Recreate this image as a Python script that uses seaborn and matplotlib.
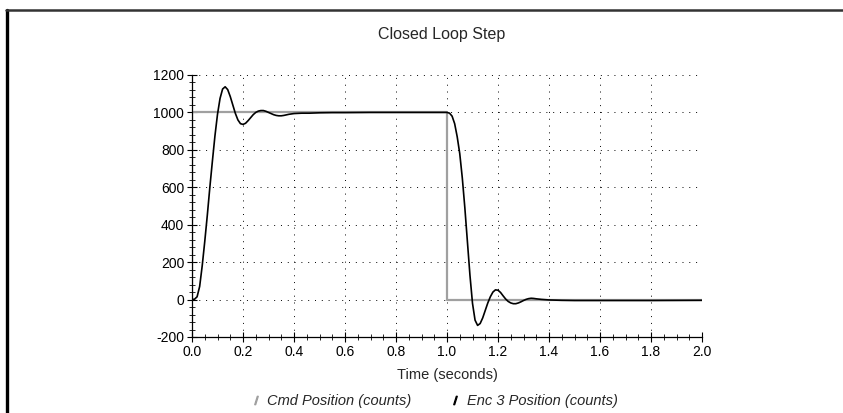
import numpy as np
import pandas as pd
import seaborn as sns
import matplotlib.pyplot as plt
from matplotlib.lines import Line2D
from matplotlib.ticker import MultipleLocator, FormatStrFormatter

# commanded position: step up at 0, step down at 1.0 s
cmd_time = [0.0, 0.0, 1.0, 1.0, 2.0]
cmd_pos = [0, 1000, 1000, 0, 0]

# encoder response
enc_time = [0.00, 0.01, 0.02, 0.03, 0.04, 0.05, 0.06, 0.07, 0.08, 0.09,
            0.10, 0.11, 0.12, 0.13, 0.14, 0.15, 0.16, 0.17, 0.18, 0.19,
            0.20, 0.21, 0.22, 0.23, 0.24, 0.25, 0.26, 0.27, 0.28, 0.29,
            0.30, 0.31, 0.32, 0.33, 0.34, 0.35, 0.36, 0.37, 0.38, 0.40,
            0.43, 0.46, 0.50, 0.55, 0.60, 0.70, 0.80, 0.90, 1.00,
            1.01, 1.02, 1.03, 1.04, 1.05, 1.06, 1.07, 1.08, 1.09,
            1.10, 1.11, 1.12, 1.13, 1.14, 1.15, 1.16, 1.17, 1.18, 1.19,
            1.20, 1.21, 1.22, 1.23, 1.24, 1.25, 1.26, 1.27, 1.28, 1.29,
            1.30, 1.31, 1.32, 1.33, 1.34, 1.35, 1.37, 1.40, 1.45, 1.50,
            1.60, 1.80, 2.00]
enc_pos = [0, 2, 15, 70, 180, 310, 450, 600, 740, 875,
           990, 1075, 1125, 1137, 1122, 1085, 1040, 995, 960, 940,
           936, 942, 956, 972, 988, 1000, 1007, 1010, 1010, 1006,
           1000, 994, 988, 984, 982, 982, 984, 987, 990, 994,
           996, 996, 998, 999, 999, 1000, 1000, 1000, 1000,
           996, 980, 940, 870, 780, 650, 490, 310, 130,
           -20, -110, -138, -128, -98, -58, -18, 15, 40, 52,
           50, 38, 20, 3, -10, -18, -22, -22, -18, -12,
           -5, 1, 5, 7, 6, 4, 1, -2, -4, -5,
           -5, -5, -4]

x_ticks = [0.0, 0.2, 0.4, 0.6, 0.8, 1.0, 1.2, 1.4, 1.6, 1.8, 2.0]
y_ticks = [-200, 0, 200, 400, 600, 800, 1000, 1200]

cmd = pd.DataFrame({"t": cmd_time, "pos": cmd_pos})
enc = pd.DataFrame({"t": enc_time, "pos": enc_pos})

sns.set_style("white")
plt.rcParams['font.family'] = ['Liberation Sans', 'DejaVu Sans']
plt.rcParams['axes.unicode_minus'] = False

fig = plt.figure(figsize=(8.43, 4.13), dpi=100)
ax = fig.add_axes([192 / 843, 1 - 337 / 413, 510 / 843, 262 / 413])

sns.lineplot(data=cmd, x="t", y="pos", estimator=None, sort=False,
             color="#a0a0a0", linewidth=1.6, ax=ax)
sns.lineplot(data=enc, x="t", y="pos", estimator=None, sort=False,
             color="black", linewidth=1.2, ax=ax)

ax.set_xlim(0, 2.0)
ax.set_ylim(-200, 1200)
ax.set_xticks(x_ticks)
ax.set_yticks(y_ticks)
ax.xaxis.set_major_formatter(FormatStrFormatter("%.1f"))
ax.xaxis.set_minor_locator(MultipleLocator(0.05))
ax.yaxis.set_minor_locator(MultipleLocator(40))
ax.tick_params(which="major", direction="inout", length=7, width=0.8,
               labelsize=10, colors="black", left=True, bottom=True, pad=2)
ax.tick_params(which="minor", direction="inout", length=4, width=0.7,
               left=True, bottom=True)

ax.grid(True, which="major", color="black", linestyle=(0, (1, 6)), linewidth=0.7)
for side in ["top", "right"]:
    ax.spines[side].set_visible(False)
for side in ["left", "bottom"]:
    ax.spines[side].set_color("black")
    ax.spines[side].set_linewidth(0.9)

ax.set_xlabel("Time (seconds)", fontsize=10.5, labelpad=7)
ax.set_ylabel("")
ax.set_title("Closed Loop Step", fontsize=11.5, pad=26, x=0.49)

handles = [
    Line2D([], [], linestyle="none", marker=r"$/$", markersize=6, color="#a0a0a0"),
    Line2D([], [], linestyle="none", marker=r"$/$", markersize=6, color="black"),
]
fig.legend(handles, ["Cmd Position (counts)", "Enc 3 Position (counts)"],
           loc="center", bbox_to_anchor=(434 / 843, 1 - 401 / 413), ncol=2,
           frameon=False, prop={"style": "italic", "size": 10.5},
           handlelength=0.8, handletextpad=0.4, columnspacing=2.6)

# border of the scanned page
fig.add_artist(Line2D([7 / 843, 7 / 843], [0, 1 - 10 / 413], color="black",
                      linewidth=2.4, transform=fig.transFigure))
fig.add_artist(Line2D([6 / 843, 1], [1 - 10 / 413, 1 - 10 / 413], color="#333333",
                      linewidth=1.8, transform=fig.transFigure))

fig.savefig("out.png", dpi=100)
